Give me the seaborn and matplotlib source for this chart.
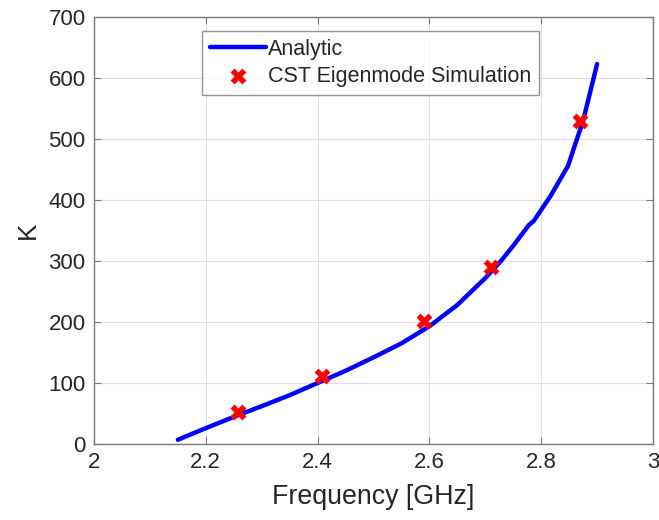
import matplotlib
matplotlib.use("Agg")
import matplotlib.pyplot as plt
import seaborn as sns
import pandas as pd

# Analytic curve
freq_analytic = [2.15, 2.20, 2.257, 2.30, 2.35, 2.40, 2.45, 2.50, 2.55, 2.60, 2.65,
                 2.70, 2.728, 2.75, 2.778, 2.787, 2.817, 2.848, 2.864, 2.875, 2.889, 2.90]
k_analytic = [7, 26, 47, 62, 80, 100, 120, 142, 165, 193, 228,
              272, 300, 325, 359, 366, 407, 456, 500, 530, 582, 623]

# CST Eigenmode simulation points
freq_cst = [2.257, 2.407, 2.590, 2.710, 2.869]
k_cst = [53, 112, 202, 290, 530]

x_ticks = [2.0, 2.2, 2.4, 2.6, 2.8, 3.0]
x_ticklabels = ["2", "2.2", "2.4", "2.6", "2.8", "3"]
y_ticks = [0, 100, 200, 300, 400, 500, 600, 700]
y_ticklabels = ["0", "100", "200", "300", "400", "500", "600", "700"]

sns.set_style("white")
plt.rcParams['font.family'] = ['Liberation Sans', 'DejaVu Sans']

df_a = pd.DataFrame({"f": freq_analytic, "K": k_analytic})
df_c = pd.DataFrame({"f": freq_cst, "K": k_cst})

fig = plt.figure(figsize=(6.59, 5.20), dpi=100)
ax = fig.add_axes([94/659, 1-444/520, (653-94)/659, (444-17)/520])

sns.lineplot(data=df_a, x="f", y="K", ax=ax, color="#0000ff", linewidth=3.2,
             label="Analytic", sort=False, zorder=3)
sns.scatterplot(data=df_c, x="f", y="K", ax=ax, marker="X", color="#ff0000",
                s=130, linewidth=0, label="CST Eigenmode Simulation", zorder=4)

ax.set_xlim(2, 3)
ax.set_ylim(0, 700)
ax.set_xticks(x_ticks)
ax.set_xticklabels(x_ticklabels)
ax.set_yticks(y_ticks)
ax.set_yticklabels(y_ticklabels)

txt = "#262626"
ax.grid(True, color="#dedede", linewidth=0.8)
ax.set_axisbelow(True)
for s in ax.spines.values():
    s.set_visible(True)
    s.set_color("#7a7a7a")
    s.set_linewidth(1.0)
ax.tick_params(direction="in", length=5, width=0.8, color="#7a7a7a",
               bottom=True, left=True, top=True, right=True,
               labelsize=16, labelcolor=txt, pad=6)
ax.set_xlabel("Frequency [GHz]", fontsize=19.3, color=txt, labelpad=8)
ax.set_ylabel("K", fontsize=19, color=txt, labelpad=6)

leg = ax.legend(loc="upper left", bbox_to_anchor=(0.193, 0.968), fontsize=15.5,
                frameon=True, fancybox=False, borderpad=0.38, labelspacing=0.28,
                handlelength=2.6, handletextpad=0.08, borderaxespad=0)
leg.get_frame().set_edgecolor("#7a7a7a")
leg.get_frame().set_linewidth(1.0)
for t in leg.get_texts():
    t.set_color(txt)

fig.savefig("out.png", dpi=100)
